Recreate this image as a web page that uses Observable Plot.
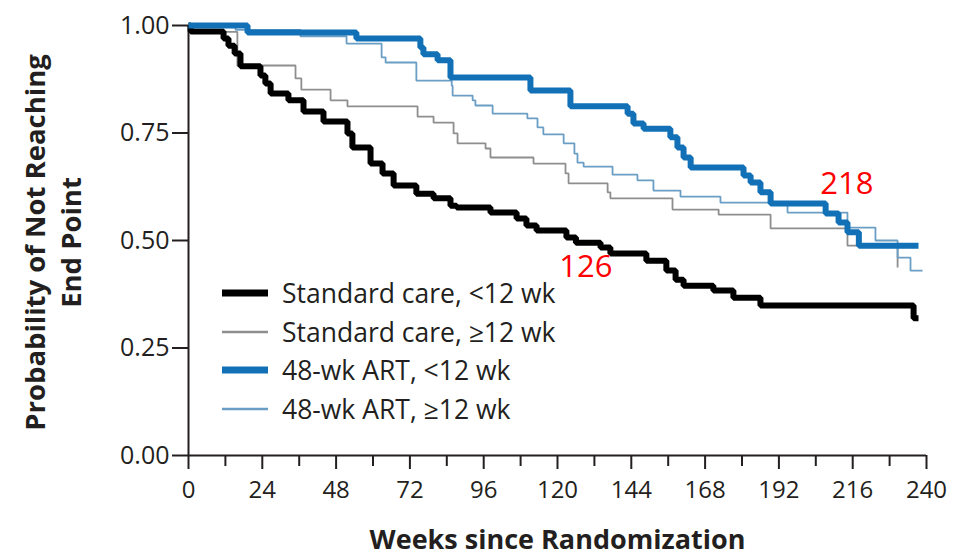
<!DOCTYPE html>
<html>
<head>
<meta charset="utf-8">
<script src="https://cdn.jsdelivr.net/npm/d3@7"></script>
<script src="https://cdn.jsdelivr.net/npm/@observablehq/plot@0.6"></script>
<style>
  html, body { margin: 0; padding: 0; background: #fff; }
  #chart { position: relative; width: 965px; height: 558px; overflow: hidden; }
  #legend { position: absolute; left: 222px; top: 274px; font-family: "Open Sans", sans-serif; font-size: 26.5px; color: #231f20; }
  #legend .row { display: flex; align-items: center; height: 38.5px; white-space: nowrap; }
  #legend svg { margin-right: 14px; }
</style>
</head>
<body>
<div id="chart"><div id="legend"></div></div>
<script>
// Kaplan-Meier estimates: weeks since randomization and probability of not reaching the end point
const groupNames = ["Standard care, <12 wk", "Standard care, \u226512 wk", "48-wk ART, <12 wk", "48-wk ART, \u226512 wk"];

const scEarlyWeeks = [0, 0.7, 11.4, 13, 15, 16.9, 23.4, 25, 26.7, 32.5, 37.4, 43.9, 51.7, 53.3, 59.2, 63.1, 66.7, 74.1, 79.7, 85.2, 87.2, 98.2, 106.7, 109.9, 113.2, 122.9, 126, 134, 137.2, 148.9, 155.4, 158.4, 161, 170.7, 177.2, 186, 235.8, 237.4];
const scEarlySurv = [1, 0.986, 0.970, 0.953, 0.935, 0.905, 0.884, 0.865, 0.842, 0.826, 0.800, 0.777, 0.749, 0.716, 0.679, 0.656, 0.628, 0.609, 0.598, 0.581, 0.577, 0.565, 0.551, 0.535, 0.523, 0.507, 0.495, 0.484, 0.470, 0.453, 0.430, 0.409, 0.395, 0.384, 0.367, 0.349, 0.319, 0.319];

const scLateWeeks = [0, 0.7, 15.9, 34.8, 36.7, 46.2, 51.7, 74.5, 79.7, 86.2, 87.5, 96.6, 98.2, 112.2, 122.6, 123.6, 136.3, 137.2, 157.4, 172.4, 189.3, 214.3, 230.6];
const scLateSurv = [1, 0.985, 0.907, 0.877, 0.851, 0.826, 0.812, 0.788, 0.774, 0.749, 0.726, 0.714, 0.693, 0.679, 0.656, 0.633, 0.612, 0.598, 0.572, 0.560, 0.528, 0.488, 0.437];

const artEarlyWeeks = [0, 19.2, 54.6, 75.4, 76.4, 81.0, 85.2, 111.2, 124.2, 142.8, 144.7, 148.0, 156.7, 159.0, 161.0, 163.3, 180.5, 182.8, 186.0, 189.3, 207.2, 211.4, 214.3, 218, 237.4];
const artEarlySurv = [1, 0.984, 0.970, 0.949, 0.933, 0.919, 0.879, 0.849, 0.812, 0.795, 0.772, 0.760, 0.740, 0.716, 0.693, 0.670, 0.651, 0.635, 0.612, 0.586, 0.563, 0.542, 0.519, 0.488, 0.488];

const artLateWeeks = [0, 15.3, 36.4, 51.4, 62.8, 64.1, 74.1, 85.6, 85.9, 92.4, 93.3, 98.9, 110.2, 113.5, 115.4, 122.0, 125.5, 126.5, 128.5, 137.9, 146.0, 151.2, 160.0, 173.0, 194.8, 214.3, 223.4, 230.6, 234.8, 238.7];
const artLateSurv = [1, 0.990, 0.975, 0.958, 0.926, 0.914, 0.872, 0.860, 0.837, 0.826, 0.814, 0.795, 0.784, 0.763, 0.747, 0.726, 0.702, 0.681, 0.672, 0.653, 0.640, 0.616, 0.602, 0.588, 0.565, 0.530, 0.500, 0.460, 0.430, 0.430];

// median survival times called out on the chart
const medianWeeks = [126, 218];

const xMajorTicks = [0, 24, 48, 72, 96, 120, 144, 168, 192, 216, 240];
const xMinorTicks = [12, 36, 60, 84, 108, 132, 156, 180, 204, 228];
const yTicks = [0, 0.25, 0.5, 0.75, 1];

const colors = ["#000000", "#8e8e8e", "#1170b6", "#6b9ec4"];
const widths = [6, 1.8, 6, 1.8];

const toRows = (weeks, surv, g) => weeks.map((w, i) => ({week: w, surv: surv[i], group: g}));
const series = [
  toRows(scEarlyWeeks, scEarlySurv, groupNames[0]),
  toRows(scLateWeeks, scLateSurv, groupNames[1]),
  toRows(artEarlyWeeks, artEarlySurv, groupNames[2]),
  toRows(artLateWeeks, artLateSurv, groupNames[3])
];

const lineMark = (i) => Plot.line(series[i], {
  x: "week", y: "surv", curve: "step-after",
  stroke: colors[i], strokeWidth: widths[i],
  strokeLinejoin: "miter", strokeLinecap: "butt"
});

const ink = "#231f20";
const font = "'Open Sans', sans-serif";

const chart = Plot.plot({
  width: 965,
  height: 558,
  marginLeft: 188,
  marginRight: 39,
  marginTop: 25,
  marginBottom: 103,
  x: {domain: [0, 240]},
  y: {domain: [0, 1]},
  style: {fontFamily: font, color: ink, background: "white", overflow: "visible"},
  marks: [
    Plot.axisY({ticks: yTicks, tickFormat: d3.format(".2f"), tickSize: 16, tickPadding: 3, fontSize: 25, strokeWidth: 2, label: null}),
    Plot.axisX({ticks: xMajorTicks, tickSize: 14, tickPadding: 11, fontSize: 24, strokeWidth: 2, label: null}),
    Plot.axisX({ticks: xMinorTicks, tickSize: 11, tickFormat: () => "", strokeWidth: 2, label: null}),
    Plot.ruleY([0], {stroke: ink, strokeWidth: 2}),
    Plot.ruleX([0], {stroke: ink, strokeWidth: 2}),
    lineMark(1),
    lineMark(3),
    lineMark(0),
    lineMark(2),
    Plot.text([medianWeeks[0]], {x: d => d, y: 0.5, text: d => String(d), dx: 10, dy: 27, fill: "#ff0000", fontSize: 31, fontFamily: font}),
    Plot.text([medianWeeks[1]], {x: d => d, y: 0.5, text: d => String(d), dx: -12, dy: -56, fill: "#ff0000", fontSize: 31, fontFamily: font}),
    Plot.text(["Probability of Not Reaching\nEnd Point"], {frameAnchor: "left", textAnchor: "middle", lineAnchor: "middle", rotate: -90, dx: -137, dy: 2, fontSize: 27.5, fontWeight: "bold", lineHeight: 1.3, fill: ink}),
    Plot.text(["Weeks since Randomization"], {frameAnchor: "bottom", lineAnchor: "middle", dy: 85, fontSize: 27, fontWeight: "bold", fill: ink})
  ]
});

const host = document.getElementById("chart");
host.insertBefore(chart, host.firstChild);

// legend drawn over the lower-left of the plot area
const legend = d3.select("#legend");
groupNames.forEach((name, i) => {
  const row = legend.append("div").attr("class", "row");
  const sw = row.append("svg").attr("width", 46).attr("height", 10);
  sw.append("line").attr("x1", 0).attr("x2", 46).attr("y1", 5).attr("y2", 5)
    .attr("stroke", colors[i]).attr("stroke-width", widths[i] + (widths[i] > 3 ? 1 : 0.6));
  row.append("span").text(name);
});
</script>
</body>
</html>
